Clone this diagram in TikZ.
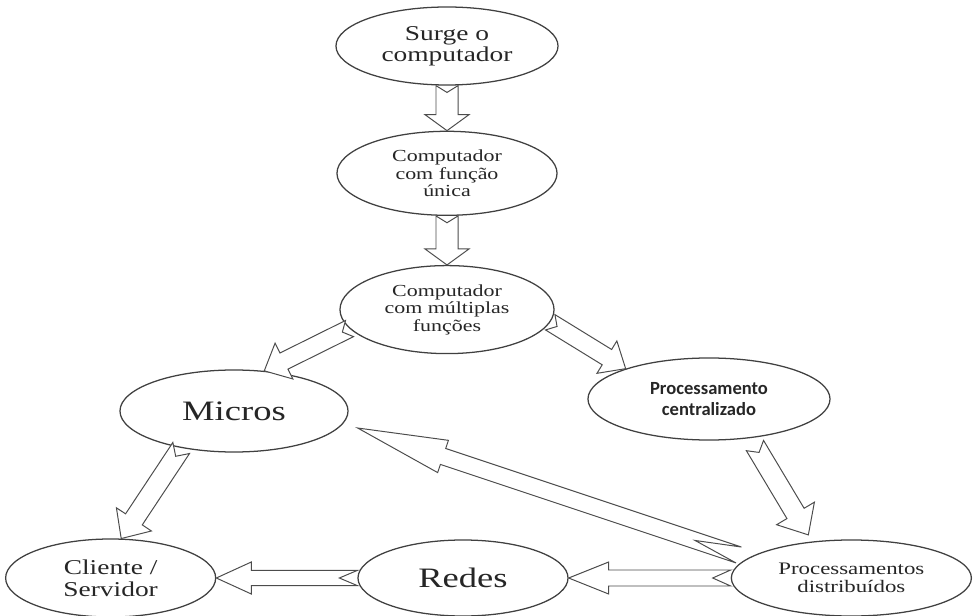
\documentclass[tikz,border=0pt]{standalone}
\usepackage{fontspec}
\setmainfont{Liberation Serif}[FakeStretch=1.3]
\newfontfamily\calibri{Carlito}
\usetikzlibrary{shapes.geometric, positioning, calc}

% hollow block arrow with notched tail: from, to, shaft, head, head length, notch
\newcommand{\blockarrow}[6]{%
  \coordinate (ba-a) at #1;
  \coordinate (ba-b) at #2;
  \coordinate (ba-c) at ($(ba-b)!#5!(ba-a)$);
  \draw[blk] ($(ba-a)!#3!90:(ba-b)$) -- ($(ba-c)!#3!-90:(ba-a)$) -- ($(ba-c)!#4!-90:(ba-a)$)
    -- (ba-b) -- ($(ba-c)!#4!90:(ba-a)$) -- ($(ba-c)!#3!90:(ba-a)$)
    -- ($(ba-a)!#3!-90:(ba-b)$) -- ($(ba-a)!#6!(ba-b)$) -- cycle;
}

\begin{document}
\begin{tikzpicture}[
  x=0.025cm, y=-0.025cm,
  oval/.style={ellipse, draw=black!75, line width=0.9pt, inner sep=0pt, align=center, text=black!85},
  blk/.style={draw=black!70, line width=0.7pt, fill=white, line join=miter}
]
  \useasboundingbox (0,0) rectangle (973,616);

  \node[oval, minimum width=5.55cm, minimum height=1.95cm, font=\fontsize{15}{13.5}\selectfont] (surge) at (447,46) {Surge o\\computador};
  \node[oval, minimum width=5.5cm, minimum height=2.1cm, font=\fontsize{12}{12.4}\selectfont, below=1.125cm of surge] (unica) {Computador\\com função\\única};
  \node[oval, minimum width=5.35cm, minimum height=2.2cm, font=\fontsize{12}{12.4}\selectfont, below=1.225cm of unica] (multi) {Computador\\com múltiplas\\funções};

  \node[oval, minimum width=5.7cm, minimum height=2.05cm, font=\fontsize{20}{24}\selectfont] (micros) at (234,411) {Micros};
  \node[oval, minimum width=6.05cm, minimum height=2.05cm, font=\calibri\bfseries\fontsize{13.2}{15.4}\selectfont] (central) at (709,399) {Processamento\\centralizado};

  \node[oval, minimum width=5.25cm, minimum height=1.9cm, font=\fontsize{20}{24}\selectfont] (redes) at (463,578) {Redes};
  \node[oval, minimum width=5.25cm, minimum height=1.95cm, font=\fontsize{15}{15.5}\selectfont, left=3.525cm of redes] (cliente) {Cliente /\\Servidor};
  \node[oval, minimum width=6.0cm, minimum height=1.9cm, font=\fontsize{12.5}{12.5}\selectfont, right=4.05cm of redes] (distrib) {Processamentos\\distribuídos};

  \blockarrow{(surge.south)}{(unica.north)}{0.275cm}{0.55cm}{0.4cm}{0.17cm}
  \blockarrow{(unica.south)}{(multi.north)}{0.275cm}{0.55cm}{0.4cm}{0.17cm}
  \blockarrow{(multi.191)}{(micros.53)}{0.225cm}{0.5cm}{0.55cm}{0.2cm}
  \blockarrow{(multi.353)}{(central.160)}{0.225cm}{0.475cm}{0.55cm}{0.2cm}
  \blockarrow{(micros.215)}{(cliente.75)}{0.25cm}{0.525cm}{0.575cm}{0.25cm}
  \blockarrow{($(central.320)+(0,8)$)}{($(distrib.140)+(0,-7)$)}{0.25cm}{0.55cm}{0.625cm}{0.2cm}
  \blockarrow{(redes.west)}{(cliente.east)}{0.19cm}{0.4cm}{0.875cm}{0.45cm}
  \blockarrow{(distrib.west)}{(redes.east)}{0.2cm}{0.4cm}{1.0cm}{0.45cm}
  \blockarrow{($(distrib.west)+(8,-23)$)}{($(micros.east)+(9,17)$)}{0.21cm}{0.425cm}{2.25cm}{1.15cm}
\end{tikzpicture}
\end{document}
